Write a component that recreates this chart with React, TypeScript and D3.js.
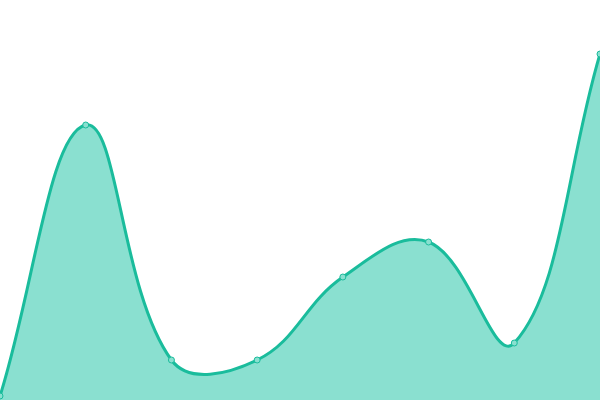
import React from 'react';
import * as d3 from 'd3';

const labels = ['A', 'B', 'C', 'D', 'E', 'F', 'G', 'H'];
const values = [1, 68.75, 10, 10, 30.75, 39.5, 14.25, 86.5];

const width = 600;
const height = 400;
const tension = 0.4;

// Spline with distance-weighted control points (Chart.js style smoothing)
class WeightedSpline {
  _context: any;
  _line: number = NaN;
  _x: number[] = [];
  _y: number[] = [];
  constructor(context: any) {
    this._context = context;
  }
  areaStart() {
    this._line = 0;
  }
  areaEnd() {
    this._line = NaN;
  }
  lineStart() {
    this._x = [];
    this._y = [];
  }
  point(x: number, y: number) {
    this._x.push(+x);
    this._y.push(+y);
  }
  lineEnd() {
    const xs = this._x;
    const ys = this._y;
    const n = xs.length;
    const ctx = this._context;
    if (n) {
      if (this._line) ctx.lineTo(xs[0], ys[0]);
      else ctx.moveTo(xs[0], ys[0]);
      const cp: { px: number; py: number; nx: number; ny: number }[] = [];
      for (let i = 0; i < n; i++) {
        const p0x = xs[Math.max(i - 1, 0)];
        const p0y = ys[Math.max(i - 1, 0)];
        const p2x = xs[Math.min(i + 1, n - 1)];
        const p2y = ys[Math.min(i + 1, n - 1)];
        const d01 = Math.hypot(xs[i] - p0x, ys[i] - p0y);
        const d12 = Math.hypot(p2x - xs[i], p2y - ys[i]);
        const s = d01 + d12 || 1;
        const fa = (tension * d01) / s;
        const fb = (tension * d12) / s;
        cp.push({
          px: Math.min(width, Math.max(0, xs[i] - fa * (p2x - p0x))),
          py: Math.min(height, Math.max(0, ys[i] - fa * (p2y - p0y))),
          nx: Math.min(width, Math.max(0, xs[i] + fb * (p2x - p0x))),
          ny: Math.min(height, Math.max(0, ys[i] + fb * (p2y - p0y))),
        });
      }
      for (let i = 1; i < n; i++) {
        ctx.bezierCurveTo(cp[i - 1].nx, cp[i - 1].ny, cp[i].px, cp[i].py, xs[i], ys[i]);
      }
    }
    if (this._line || (this._line !== 0 && n === 1)) ctx.closePath();
    this._line = 1 - this._line;
  }
}

const curve = (context: any) => new WeightedSpline(context) as any;

const App: React.FC = () => {
  const x = d3.scalePoint<string>().domain(labels).range([0, width]);
  const y = d3.scaleLinear().domain([0, 100]).range([height, 0]);

  const area = d3
    .area<number>()
    .x((d, i) => x(labels[i]) as number)
    .y0(height)
    .y1((d) => y(d))
    .curve(curve);

  const line = d3
    .line<number>()
    .x((d, i) => x(labels[i]) as number)
    .y((d) => y(d))
    .curve(curve);

  return (
    <svg
      width={width}
      height={height}
      style={{ position: 'absolute', left: 0, top: 0, display: 'block' }}
    >
      <path d={area(values) || ''} fill="#8ae0d0" />
      <path d={line(values) || ''} fill="none" stroke="#1abc9c" strokeWidth={3} />
      {values.map((v, i) => (
        <circle
          key={labels[i]}
          cx={x(labels[i])}
          cy={y(v)}
          r={3}
          fill="#8ae0d0"
          stroke="#1abc9c"
          strokeWidth={1}
        />
      ))}
    </svg>
  );
};

export default App;
